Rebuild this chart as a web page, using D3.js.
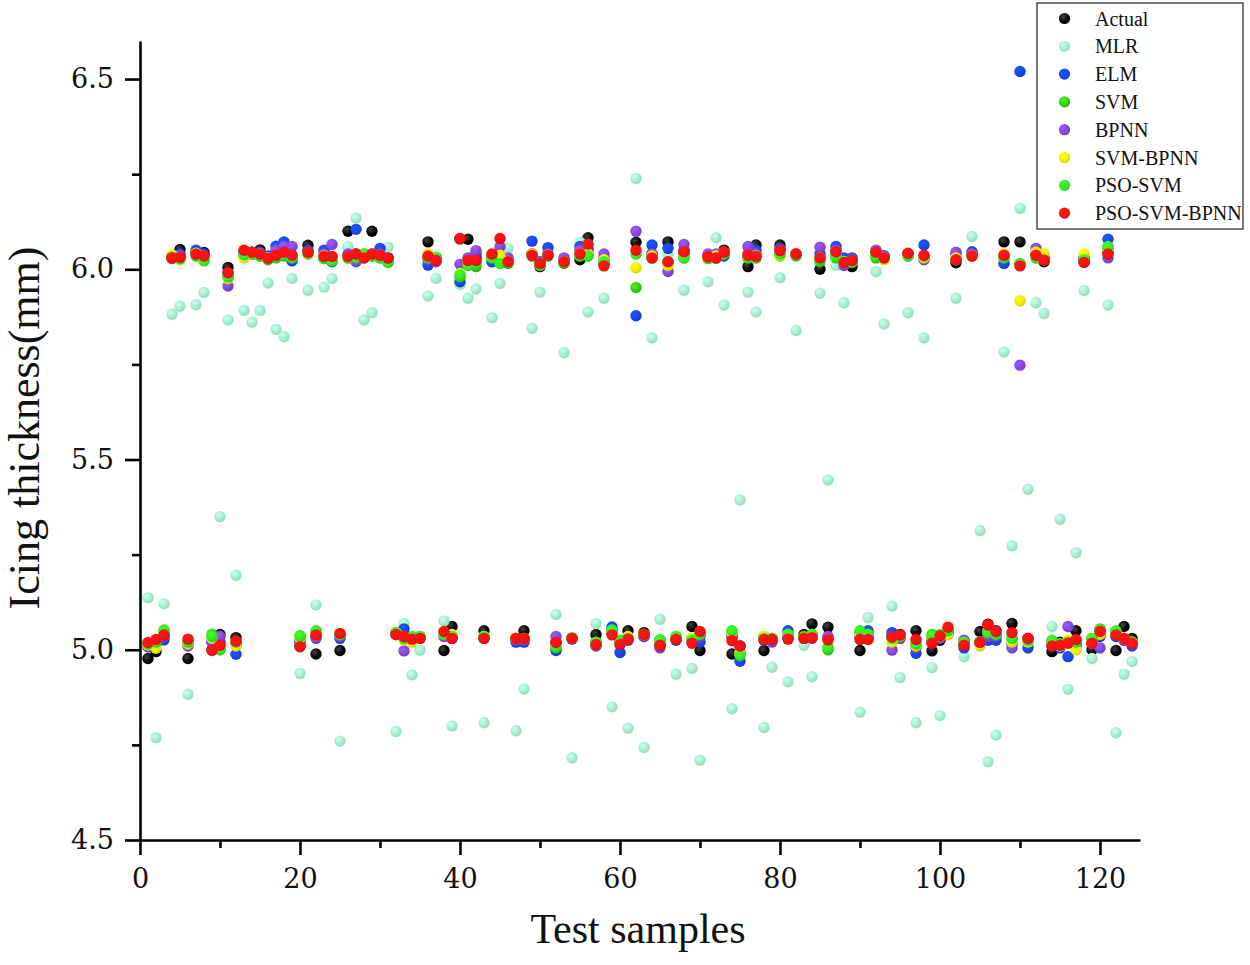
<!DOCTYPE html>
<html>
<head>
<meta charset="utf-8">
<script src="https://cdnjs.cloudflare.com/ajax/libs/d3/7.8.5/d3.min.js"></script>
<style>
  body { margin: 0; background: #fff; }
  text { font-family: "Liberation Serif", "DejaVu Serif", serif; fill: #111; }
</style>
</head>
<body>
<div id="viz"></div>
<script>
var width = 1250;
var height = 965;

// test sample index 1..124
var samples = d3.range(1, 125);

var xTicks = [0, 20, 40, 60, 80, 100, 120];
var xMinor = [10, 30, 50, 70, 90, 110];
var yTicks = [4.5, 5.0, 5.5, 6.0, 6.5];
var yMinor = [4.75, 5.25, 5.75, 6.25];

var seriesNames = ['Actual', 'MLR', 'ELM', 'SVM', 'BPNN', 'SVM-BPNN', 'PSO-SVM', 'PSO-SVM-BPNN'];
var seriesColors = ['#050505', '#a3edc8', '#1747f0', '#38cc14', '#8447de', '#f2f000', '#33ee22', '#ff1010'];

var actual = [
  4.977,4.995,5.040,6.030,6.052,4.977,6.045,6.044,5.000,5.040,
  6.005,5.032,6.045,6.045,6.051,6.030,6.040,6.045,6.035,5.010,
  6.063,4.989,6.030,6.030,4.998,6.100,6.040,6.035,6.100,6.040,
  6.030,5.045,5.040,5.030,5.030,6.072,6.030,4.998,5.061,6.080,
  6.079,6.030,5.050,6.035,6.040,6.020,5.030,5.050,6.040,6.007,
  6.040,5.020,6.020,5.030,6.025,6.083,5.040,6.015,5.050,5.020,
  5.050,6.071,5.045,6.040,5.015,6.072,5.030,6.040,5.061,4.998,
  6.035,6.035,6.050,4.989,5.010,6.007,6.064,4.998,5.030,6.064,
  5.030,6.040,5.040,5.068,6.000,5.059,6.040,6.020,6.007,4.998,
  5.030,6.040,6.035,5.035,5.040,6.040,5.050,6.030,4.997,5.025,
  5.050,6.017,5.020,6.040,5.048,5.067,5.050,6.072,5.069,6.072,
  5.030,6.040,6.020,4.995,5.020,5.020,5.050,6.020,5.000,5.050,
  6.045,4.998,5.061,5.030
];

var mlr = [
  5.137,4.769,5.121,5.882,5.903,4.883,5.907,5.939,5.020,5.350,
  5.867,5.196,5.892,5.861,5.892,5.964,5.842,5.823,5.976,4.938,
  5.945,5.118,5.953,5.976,4.760,6.060,6.135,5.867,5.886,6.040,
  6.058,4.785,5.069,4.934,4.999,5.930,5.976,5.076,4.800,5.960,
  5.924,5.948,4.808,5.873,5.963,6.055,4.787,4.897,5.845,5.940,
  6.040,5.093,5.781,4.716,6.071,5.888,5.069,5.924,4.850,5.020,
  4.794,6.239,4.743,5.820,5.080,6.040,4.936,5.945,4.951,4.710,
  5.967,6.083,5.906,4.845,5.394,5.940,5.888,4.796,4.954,5.978,
  4.916,5.839,5.012,4.929,5.937,5.446,6.011,5.912,6.020,4.836,
  5.085,5.994,5.856,5.115,4.927,5.886,4.808,5.820,4.953,4.827,
  5.040,5.924,4.982,6.086,5.313,4.706,4.776,5.783,5.273,6.160,
  5.422,5.912,5.884,5.061,5.343,4.896,5.255,5.944,4.977,5.040,
  5.906,4.782,4.936,4.969
];

var elm = [
  5.008,5.020,5.026,6.035,6.040,5.020,6.050,6.040,5.020,5.020,
  5.990,4.988,6.040,6.040,6.045,6.035,6.061,6.072,6.022,5.020,
  6.050,5.035,6.050,6.020,5.030,6.035,6.105,6.030,6.040,6.055,
  6.030,5.040,5.055,5.030,5.030,6.011,6.025,5.040,5.030,5.967,
  6.020,6.040,5.030,6.020,6.030,6.025,5.020,5.020,6.074,6.020,
  6.057,4.998,6.025,5.028,6.060,6.050,5.015,6.030,5.060,4.993,
  5.025,5.878,5.035,6.064,5.010,6.055,5.025,6.050,5.025,5.020,
  6.035,6.030,6.035,5.035,4.970,6.040,6.050,5.025,5.025,6.055,
  5.050,6.040,5.030,5.035,6.040,5.030,6.060,6.030,6.030,5.045,
  5.050,6.045,6.035,5.045,5.030,6.040,4.991,6.064,5.020,5.030,
  5.045,6.040,5.005,6.046,5.015,5.025,5.025,6.015,5.015,6.520,
  5.005,6.040,6.030,5.010,5.005,4.982,5.010,6.030,5.015,5.035,
  6.079,5.035,5.025,5.010
];

var svm = [
  5.015,5.020,5.045,6.028,6.030,5.020,6.035,6.025,5.041,5.000,
  5.985,5.020,6.035,6.040,6.035,6.025,6.030,6.035,6.030,5.037,
  6.040,5.050,6.030,6.025,5.040,6.030,6.030,6.040,6.035,6.030,
  6.020,5.045,5.035,5.030,5.035,6.030,6.030,5.045,5.035,5.980,
  6.015,6.007,5.035,6.030,6.020,6.015,5.030,5.030,6.035,6.015,
  6.035,5.005,6.015,5.030,6.035,6.035,5.020,6.020,5.050,5.020,
  5.030,5.952,5.040,6.030,5.026,6.020,5.035,6.030,5.030,5.040,
  6.028,6.030,6.040,5.040,4.990,6.030,6.030,5.035,5.030,6.035,
  5.040,6.035,5.035,5.040,6.020,5.000,6.030,6.020,6.020,5.045,
  5.040,6.030,6.030,5.030,5.035,6.035,5.015,6.030,5.040,5.040,
  5.050,6.025,5.020,6.035,5.020,5.040,5.040,6.030,5.030,6.015,
  5.025,6.030,6.025,5.020,5.015,5.020,5.020,6.025,5.030,5.055,
  6.055,5.045,5.030,5.020
];

var bpnn = [
  5.010,5.015,5.035,6.030,6.035,5.010,6.040,6.035,5.020,5.035,
  5.956,5.015,6.045,6.045,6.040,6.030,6.050,6.060,6.060,5.025,
  6.045,5.030,6.040,6.065,5.035,6.040,6.020,6.035,6.040,6.040,
  6.025,5.040,4.997,5.025,5.030,6.025,6.020,5.035,5.030,6.013,
  6.030,6.049,5.030,6.035,6.060,6.030,5.025,5.025,6.040,6.020,
  6.040,5.035,6.030,5.030,6.050,6.055,5.010,6.040,5.045,5.020,
  5.025,6.100,5.035,6.040,5.005,5.994,5.030,6.065,5.025,5.035,
  6.040,6.040,6.040,5.035,4.995,6.060,6.040,5.030,5.020,6.050,
  5.035,6.040,5.030,5.030,6.058,5.035,6.050,6.010,6.025,5.035,
  5.035,6.050,6.035,4.999,5.030,6.040,5.005,6.025,5.025,5.030,
  5.045,6.045,5.025,6.040,5.020,5.035,5.035,6.035,5.005,5.748,
  5.020,6.055,6.030,5.015,5.010,5.061,5.015,6.030,5.020,5.005,
  6.030,5.040,5.025,5.015
];

var svmBpnn = [
  5.012,5.004,5.045,6.038,6.025,5.015,6.042,6.030,5.030,5.005,
  5.975,5.010,6.030,6.040,6.040,6.030,6.035,6.040,6.035,5.030,
  6.040,5.040,6.035,6.030,5.040,6.030,6.035,6.030,6.040,6.035,
  6.022,5.045,5.025,5.020,5.030,6.040,6.025,5.040,5.040,5.989,
  6.020,6.020,5.035,6.038,6.037,6.020,5.030,5.030,6.040,6.012,
  6.038,5.010,6.020,5.030,6.040,6.040,5.015,6.025,5.045,5.015,
  5.035,6.004,5.040,6.035,5.020,6.010,5.035,6.035,5.030,5.045,
  6.030,6.035,6.045,5.045,4.990,6.035,6.035,5.035,5.030,6.035,
  5.040,6.040,5.030,5.035,6.030,5.010,6.040,6.020,6.020,5.040,
  5.040,6.040,6.025,5.020,5.035,6.035,5.010,6.030,5.030,5.035,
  5.040,6.030,5.015,6.035,5.010,5.050,5.045,6.040,5.020,5.917,
  5.020,6.045,6.040,5.020,5.010,5.025,5.000,6.040,5.025,5.040,
  6.050,5.045,5.030,5.020
];

var psoSvm = [
  5.015,5.020,5.052,6.032,6.028,5.020,6.038,6.022,5.035,5.000,
  5.980,5.020,6.038,6.040,6.035,6.028,6.032,6.038,6.030,5.035,
  6.042,5.048,6.028,6.022,5.040,6.030,6.030,6.040,6.035,6.030,
  6.018,5.045,5.030,5.035,5.035,6.030,6.032,5.040,5.035,5.985,
  6.010,6.015,5.035,6.030,6.015,6.018,5.030,5.030,6.035,6.010,
  6.035,5.008,6.018,5.032,6.035,6.035,5.020,6.020,5.052,5.025,
  5.030,6.040,5.040,6.030,5.026,6.020,5.035,6.030,5.025,5.040,
  6.030,6.030,6.040,5.050,4.985,6.030,6.030,5.030,5.030,6.040,
  5.040,6.038,5.030,5.040,6.025,5.005,6.035,6.020,6.018,5.050,
  5.040,6.035,6.030,5.030,5.035,6.035,5.015,6.035,5.035,5.035,
  5.050,6.025,5.020,6.035,5.020,5.045,5.040,6.030,5.030,6.015,
  5.025,6.030,6.025,5.025,5.015,5.020,5.020,6.025,5.030,5.050,
  6.060,5.050,5.030,5.020
];

var psoSvmBpnn = [
  5.019,5.027,5.039,6.030,6.032,5.028,6.040,6.035,4.998,5.012,
  5.991,5.023,6.050,6.045,6.040,6.029,6.037,6.045,6.037,5.008,
  6.045,5.039,6.034,6.034,5.043,6.034,6.040,6.030,6.040,6.037,
  6.029,5.040,5.035,5.028,5.030,6.035,6.023,5.048,5.030,6.081,
  6.023,6.023,5.030,6.040,6.081,6.020,5.030,5.030,6.037,6.015,
  6.037,5.019,6.020,5.030,6.040,6.066,5.014,6.009,5.039,5.014,
  5.028,6.050,5.040,6.030,5.012,6.020,5.027,6.046,5.017,5.048,
  6.033,6.030,6.045,5.024,5.010,6.037,6.034,5.027,5.027,6.049,
  5.028,6.040,5.030,5.032,6.030,5.026,6.046,6.018,6.023,5.027,
  5.027,6.045,6.030,5.034,5.039,6.042,5.027,6.037,5.017,5.036,
  5.059,6.025,5.012,6.035,5.019,5.065,5.048,6.037,5.045,6.009,
  5.030,6.037,6.024,5.010,5.012,5.017,5.027,6.018,5.017,5.048,
  6.040,5.039,5.030,5.017
];

var seriesValues = [actual, mlr, elm, svm, bpnn, svmBpnn, psoSvm, psoSvmBpnn];

var series = seriesNames.map(function (name, i) {
  return {
    name: name,
    color: seriesColors[i],
    id: 'grad' + i,
    points: samples.map(function (s, j) { return { x: s, y: seriesValues[i][j] }; })
  };
});

var svg = d3.select('#viz').append('svg')
  .attr('width', width)
  .attr('height', height)
  .style('background', '#fff');

var x = d3.scaleLinear().domain([0, 125]).range([140, 1140]);
var y = d3.scaleLinear().domain([4.5, 6.6]).range([840, 41]);

// sphere look for markers
var defs = svg.append('defs');
series.forEach(function (s) {
  var c = d3.color(s.color);
  var g = defs.append('radialGradient')
    .attr('id', s.id)
    .attr('cx', '38%').attr('cy', '35%').attr('r', '70%');
  g.append('stop').attr('offset', '0%').attr('stop-color', s.name === 'Actual' ? '#444' : c.brighter(0.6));
  g.append('stop').attr('offset', '60%').attr('stop-color', s.color);
  g.append('stop').attr('offset', '100%').attr('stop-color', s.name === 'MLR' ? '#8fdcb6' : c.darker(0.5));
});

// points
series.forEach(function (s) {
  svg.append('g')
    .selectAll('circle')
    .data(s.points).enter()
    .append('circle')
    .attr('cx', function (d) { return x(d.x); })
    .attr('cy', function (d) { return y(d.y); })
    .attr('r', 5.7)
    .style('fill', 'url(#' + s.id + ')');
});

// axes
var xAxis = svg.append('g')
  .attr('transform', 'translate(0,840)')
  .call(d3.axisBottom(x).tickValues(xTicks).tickSize(15).tickSizeOuter(0).tickPadding(14).tickFormat(d3.format('d')));
var xAxisMinor = svg.append('g')
  .attr('transform', 'translate(0,840)')
  .call(d3.axisBottom(x).tickValues(xMinor).tickSize(8).tickFormat(''));
var yAxis = svg.append('g')
  .attr('transform', 'translate(140,0)')
  .call(d3.axisLeft(y).tickValues(yTicks).tickSize(15).tickSizeOuter(0).tickPadding(11).tickFormat(d3.format('.1f')));
var yAxisMinor = svg.append('g')
  .attr('transform', 'translate(140,0)')
  .call(d3.axisLeft(y).tickValues(yMinor).tickSize(8).tickFormat(''));

xAxisMinor.select('.domain').remove();
yAxisMinor.select('.domain').remove();

svg.selectAll('.domain, .tick line')
  .style('stroke', '#000')
  .style('stroke-width', 2.6);
svg.selectAll('.tick text')
  .style('font-size', '27px')
  .style('font-family', '"DejaVu Serif", serif')
  .style('fill', '#111');

// axis titles
svg.append('text')
  .attr('transform', 'translate(39,428) rotate(-90)')
  .attr('text-anchor', 'middle')
  .style('font-size', '44px')
  .text('Icing thickness(mm)');

svg.append('text')
  .attr('x', 638)
  .attr('y', 943)
  .attr('text-anchor', 'middle')
  .style('font-size', '42px')
  .text('Test samples');

// legend
var legend = svg.append('g');
legend.append('rect')
  .attr('x', 1037).attr('y', 3)
  .attr('width', 206).attr('height', 226)
  .style('fill', '#fff')
  .style('stroke', '#222')
  .style('stroke-width', 1.2);

var rows = legend.selectAll('g.row')
  .data(series).enter()
  .append('g')
  .attr('class', 'row')
  .attr('transform', function (d, i) { return 'translate(0,' + (18.5 + i * 27.8) + ')'; });

rows.append('circle')
  .attr('cx', 1064.5)
  .attr('cy', 0)
  .attr('r', 5.6)
  .style('fill', function (d) { return 'url(#' + d.id + ')'; });

rows.append('text')
  .attr('x', 1095)
  .attr('y', 7)
  .style('font-size', '20px')
  .text(function (d) { return d.name; });
</script>
</body>
</html>
